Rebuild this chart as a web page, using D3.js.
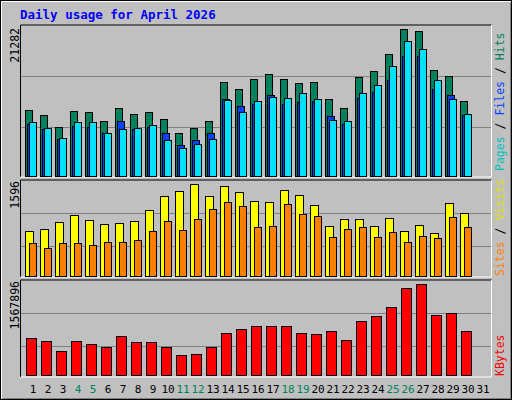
<!DOCTYPE html><html><head><meta charset="utf-8"><script src="https://cdn.jsdelivr.net/npm/d3@7"></script>
<style>body{margin:0;background:#fff}</style></head><body><svg id="c" width="512" height="400"></svg>
<script>
const days = d3.range(1,32);
const weekend = [4,5,11,12,18,19,25,26];
const hits = [9584,8860,7123,9440,9295,7992,9874,9005,9295,8281,6254,6978,7992,13638,12625,14073,14796,14073,13493,13638,11177,9874,14362,15231,17692,21282,21022,15376,14507,10888];
const files = [7559,6835,5387,7269,7124,6255,7993,6835,7124,6255,4518,5242,6255,11179,10165,10455,11758,10455,10744,10889,8717,7559,11323,12192,13930,17405,17405,12627,11758,8862];
const pages = [7848,6979,5531,7848,7848,6255,6835,6979,7414,5242,4083,4663,5387,11034,9296,10889,11468,11294,12047,11149,8138,7964,12047,13206,15957,19577,18418,13930,11149,9007];
const visits = [781,815,937,1058,972,902,920,954,1145,1388,1475,1596,1388,1561,1457,1301,1284,1492,1405,1232,867,989,989,867,1006,781,885,746,1266,1093];
const sites = [573,486,573,573,538,590,590,625,781,954,798,989,1162,1284,1214,850,867,1249,1076,1041,677,815,850,677,763,590,694,659,1024,850];
const kbytes = [640864,589366,417706,589366,537868,486370,675196,572200,572200,486370,349042,366208,486370,726694,795358,846856,846856,846856,726694,709528,761026,606532,932686,1018516,1173010,1499164,1567896,1035682,1070014,761026];

const svg = d3.select("#c");
const mono = "DejaVu Sans Mono, monospace";
// frame
svg.append("rect").attr("x",0.5).attr("y",0.5).attr("width",511).attr("height",399).attr("fill","#c0c0c0").attr("stroke","#000");
svg.append("path").attr("d","M1.5,398.5V1.5H510.5").attr("fill","none").attr("stroke","#fff");
svg.append("path").attr("d","M2.5,398.5H510.5V2.5").attr("fill","none").attr("stroke","#808080");
svg.append("text").attr("x",20).attr("y",19).attr("fill","#0000ff").attr("font-family",mono).attr("font-weight","bold").attr("font-size",12.5).text("Daily usage for April 2026");

const x = d3.scaleBand().domain(days).range([23,488]).paddingInner(0);
const L=20.5, R=491.5;
function panel(top,bottom,grids){
  svg.append("rect").attr("x",L).attr("y",top).attr("width",R-L).attr("height",bottom-top).attr("fill","#c0c0c0");
  grids.forEach(g=>svg.append("line").attr("x1",L).attr("x2",R).attr("y1",g).attr("y2",g).attr("stroke","#808080"));
  svg.append("path").attr("d",`M${L},${bottom}V${top}H${R}`).attr("fill","none").attr("stroke","#000");
  svg.append("path").attr("d",`M${R},${top}V${bottom}H${L}`).attr("fill","none").attr("stroke","#fff");
}
function bars(data,y,off,w,color){
  svg.append("g").selectAll("rect").data(data).join("rect")
   .attr("x",(d,i)=>x(i+1)+off+0.5).attr("y",d=>Math.round(y(d))+0.5)
   .attr("width",w).attr("height",d=>y(0)-Math.round(y(d)))
   .attr("fill",color).attr("stroke","#000");
}
function vlabel(txt,cx,cy,col,anchor){
  svg.append("text").attr("transform",`translate(${cx},${cy}) rotate(-90)`).attr("text-anchor",anchor)
   .attr("font-family",mono).attr("font-size",11.5).attr("fill",col).text(txt);
}
// top panel
panel(25,177,[76.5,127.5]);
const y1 = d3.scaleLinear().domain([0,21934]).range([176,25]);
bars(hits,y1,2,7,"#00805c");
bars(files,y1,4,7,"#0040ff");
bars(pages,y1,6,7,"#00e0ff");
vlabel("21282",19,28,"#000","end");
const rt = svg.append("text").attr("transform","translate(504,171) rotate(-90)").attr("font-family",mono).attr("font-size",11.5);
rt.append("tspan").attr("fill","#00c0c0").text("Pages");
rt.append("tspan").attr("fill","#000").text(" / ");
rt.append("tspan").attr("fill","#0040ff").text("Files");
rt.append("tspan").attr("fill","#000").text(" / ");
rt.append("tspan").attr("fill","#00805c").text("Hits");
// middle
panel(180,277,[213.5,246.5]);
const y2 = d3.scaleLinear().domain([0,1596]).range([276,184]);
bars(visits,y2,2,8,"#ffff00");
bars(sites,y2,6,7,"#ff8000");
vlabel("1596",19,181,"#000","end");
const mt = svg.append("text").attr("transform","translate(504,276) rotate(-90)").attr("font-family",mono).attr("font-size",11.5);
mt.append("tspan").attr("fill","#ff8000").text("Sites");
mt.append("tspan").attr("fill","#000").text(" / ");
mt.append("tspan").attr("fill","#e0e000").text("Visits");
// bottom
panel(280,377,[313.5,346.5]);
const y3 = d3.scaleLinear().domain([0,1567896]).range([375,284]);
bars(kbytes,y3,3,10,"#ff0000");
vlabel("1567896",19,281,"#000","end");
vlabel("KBytes",504,376,"#ff0000","start");
// x labels
svg.append("g").selectAll("text").data(days).join("text")
 .attr("x",d=>x(d)+x.bandwidth()/2+2.5).attr("y",393).attr("text-anchor","middle")
 .attr("font-family",mono).attr("font-size",11)
 .attr("fill",d=>weekend.includes(d)?"#00805c":"#000").text(d=>d);
</script></body></html>
